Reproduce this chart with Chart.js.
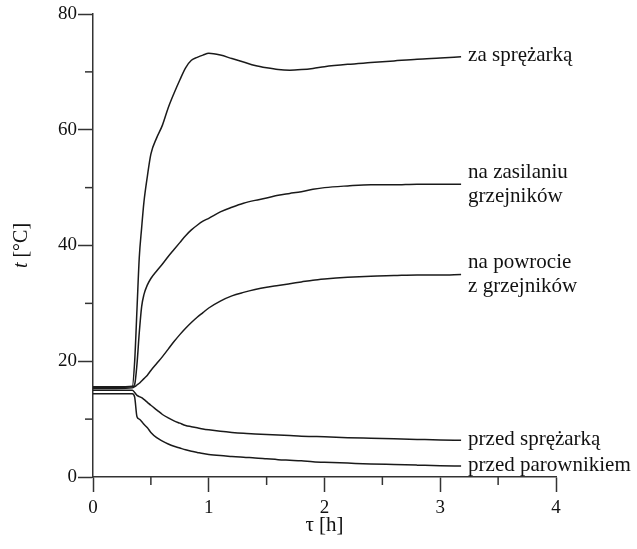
<!DOCTYPE html>
<html>
<head>
<meta charset="utf-8">
<script src="https://cdn.jsdelivr.net/npm/chart.js@4/dist/chart.umd.min.js"></script>
<style>
  html, body { margin: 0; padding: 0; background: #fff; }
  #wrap { width: 637px; height: 549px; }
</style>
</head>
<body>
<div id="wrap"><canvas id="tempChart" width="637" height="549"></canvas></div>
<script>
  // czas [h]
  var czas = [0, 0.2, 0.34, 0.36, 0.38, 0.40, 0.42, 0.44, 0.47, 0.5, 0.55, 0.6, 0.65, 0.7, 0.75, 0.8, 0.85, 0.9, 0.95, 1.0,
    1.1, 1.2, 1.3, 1.4, 1.5, 1.6, 1.7, 1.8, 1.9, 2.0, 2.2, 2.4, 2.6, 2.8, 3.0, 3.18];

  var zaSprezarka = [15.6, 15.6, 15.7, 20, 29, 38, 43, 47.5, 52, 55.8, 58.6, 60.8, 63.8, 66.3, 68.6, 70.7, 72.0, 72.5, 72.9, 73.2,
    72.9, 72.3, 71.7, 71.1, 70.7, 70.4, 70.3, 70.4, 70.6, 70.9, 71.3, 71.6, 71.9, 72.2, 72.4, 72.6];
  var naZasilaniu = [15.5, 15.5, 15.6, 16, 19.5, 25, 29.4, 31.5, 33.2, 34.3, 35.6, 36.8, 38.1, 39.3, 40.5, 41.7, 42.7, 43.5, 44.2, 44.7,
    45.8, 46.6, 47.3, 47.8, 48.2, 48.7, 49.0, 49.3, 49.7, 50.0, 50.3, 50.5, 50.5, 50.6, 50.6, 50.6];
  var naPowrocie = [15.3, 15.3, 15.4, 15.6, 15.9, 16.2, 16.6, 17.0, 17.6, 18.4, 19.6, 20.8, 22.1, 23.4, 24.6, 25.7, 26.7, 27.6, 28.4, 29.2,
    30.4, 31.3, 31.9, 32.4, 32.8, 33.1, 33.4, 33.7, 34.0, 34.2, 34.5, 34.7, 34.8, 34.9, 34.9, 35.0];
  var przedSprezarka = [15.0, 15.0, 15.0, 14.6, 14.1, 13.9, 13.7, 13.4, 12.9, 12.4, 11.6, 10.8, 10.2, 9.7, 9.3, 8.9, 8.7, 8.5, 8.3, 8.15,
    7.9, 7.7, 7.55, 7.45, 7.35, 7.25, 7.15, 7.05, 7.0, 6.95, 6.8, 6.7, 6.6, 6.5, 6.4, 6.35];
  var przedParownikiem = [14.4, 14.4, 14.4, 13.8, 10.4, 10.0, 9.6, 9.1, 8.5, 7.7, 6.8, 6.2, 5.7, 5.3, 5.0, 4.7, 4.45, 4.25, 4.05, 3.9,
    3.7, 3.55, 3.4, 3.3, 3.15, 3.0, 2.9, 2.8, 2.65, 2.55, 2.4, 2.25, 2.15, 2.05, 1.95, 1.9];

  var opisy = [['za sprężarką'], ['na zasilaniu', 'grzejników'], ['na powrocie', 'z grzejników'], ['przed sprężarką'], ['przed parownikiem']];
  var serie = [zaSprezarka, naZasilaniu, naPowrocie, przedSprezarka, przedParownikiem];

  var serif = '"Liberation Serif", "Times New Roman", serif';
  var kolorLinii = '#1a1a1a';
  var kolorOsi = '#333';

  function punkty(vals) {
    return czas.map(function (t, i) { return { x: t, y: vals[i] }; });
  }

  var datasets = serie.map(function (vals, i) {
    return {
      label: opisy[i].join(' '),
      data: punkty(vals),
      borderColor: kolorLinii,
      borderWidth: 1.5,
      pointRadius: 0,
      fill: false,
      cubicInterpolationMode: 'monotone'
    };
  });

  // opisy przy koncach krzywych + tytul osi Y (kursywa t)
  var opisyPlugin = {
    id: 'opisy',
    afterDatasetsDraw: function (chart) {
      var ctx = chart.ctx;
      ctx.save();
      ctx.fillStyle = '#111';
      ctx.font = '21px ' + serif;
      ctx.textAlign = 'left';
      ctx.textBaseline = 'middle';
      chart.data.datasets.forEach(function (ds, i) {
        var meta = chart.getDatasetMeta(i);
        var last = meta.data[meta.data.length - 1];
        var lines = opisy[i];
        var lh = 24;
        lines.forEach(function (txt, j) {
          var dy = (j - (lines.length - 1) / 2) * lh;
          if (lines.length == 1) dy -= 1;
          ctx.fillText(txt, last.x + 7, last.y + dy);
        });
      });
      ctx.restore();
    },
    afterDraw: function (chart) {
      var ctx = chart.ctx;
      var area = chart.chartArea;
      var xs = chart.scales.x, ys = chart.scales.y;
      ctx.save();
      // male kreski (podzialka pomocnicza)
      ctx.strokeStyle = kolorOsi;
      ctx.lineWidth = 1.5;
      xs.ticks.forEach(function (t) {
        if (t.value % 1 !== 0) {
          var px = xs.getPixelForValue(t.value);
          ctx.beginPath(); ctx.moveTo(px, area.bottom); ctx.lineTo(px, area.bottom + 8); ctx.stroke();
        }
      });
      ys.ticks.forEach(function (t) {
        if (t.value % 20 !== 0) {
          var py = ys.getPixelForValue(t.value);
          ctx.beginPath(); ctx.moveTo(area.left, py); ctx.lineTo(area.left - 8, py); ctx.stroke();
        }
      });
      // tytul osi Y
      ctx.translate(22, (area.top + area.bottom) / 2);
      ctx.rotate(-Math.PI / 2);
      ctx.fillStyle = '#111';
      ctx.textBaseline = 'middle';
      ctx.font = 'italic 20px ' + serif;
      var w1 = ctx.measureText('t').width;
      ctx.font = '20px ' + serif;
      var w2 = ctx.measureText(' [°C]').width;
      var start = -(w1 + w2) / 2;
      ctx.font = 'italic 20px ' + serif;
      ctx.textAlign = 'left';
      ctx.fillText('t', start, 0);
      ctx.font = '20px ' + serif;
      ctx.fillText(' [°C]', start + w1, 0);
      ctx.restore();
    }
  };

  var ctx = document.getElementById('tempChart').getContext('2d');
  window.tempChart = new Chart(ctx, {
    type: 'line',
    data: { datasets: datasets },
    options: {
      responsive: false,
      animation: false,
      layout: { padding: { top: 14, right: 81, bottom: 0, left: 0 } },
      plugins: { legend: { display: false }, tooltip: { enabled: false } },
      scales: {
        x: {
          type: 'linear',
          min: 0,
          max: 4,
          afterFit: function (scale) { scale.height = 72; },
          border: { display: true, color: kolorOsi, width: 1.5 },
          grid: {
            drawOnChartArea: false,
            drawTicks: true,
            tickLength: 15,
            tickWidth: 1.5,
            tickColor: function (c) { return c.tick && c.tick.value % 1 === 0 ? kolorOsi : 'rgba(0,0,0,0)'; }
          },
          ticks: {
            stepSize: 0.5,
            padding: 5,
            color: '#111',
            font: { family: serif, size: 19 },
            maxRotation: 0,
            autoSkip: false,
            callback: function (v) { return v % 1 === 0 ? String(v) : ''; }
          },
          title: {
            display: true,
            text: 'τ [h]',
            color: '#111',
            font: { family: serif, size: 21 },
            padding: { top: 0, bottom: 11 }
          }
        },
        y: {
          min: 0,
          max: 80,
          afterFit: function (scale) { scale.width = 93; },
          border: { display: true, color: kolorOsi, width: 1.5 },
          grid: {
            drawOnChartArea: false,
            drawTicks: true,
            tickLength: 15,
            tickWidth: 1.5,
            tickColor: function (c) { return c.tick && c.tick.value % 20 === 0 ? kolorOsi : 'rgba(0,0,0,0)'; }
          },
          ticks: {
            stepSize: 10,
            padding: 1,
            color: '#111',
            font: { family: serif, size: 19 },
            autoSkip: false,
            callback: function (v) { return v % 20 === 0 ? String(v) : ''; }
          }
        }
      }
    },
    plugins: [opisyPlugin]
  });
</script>
</body>
</html>
